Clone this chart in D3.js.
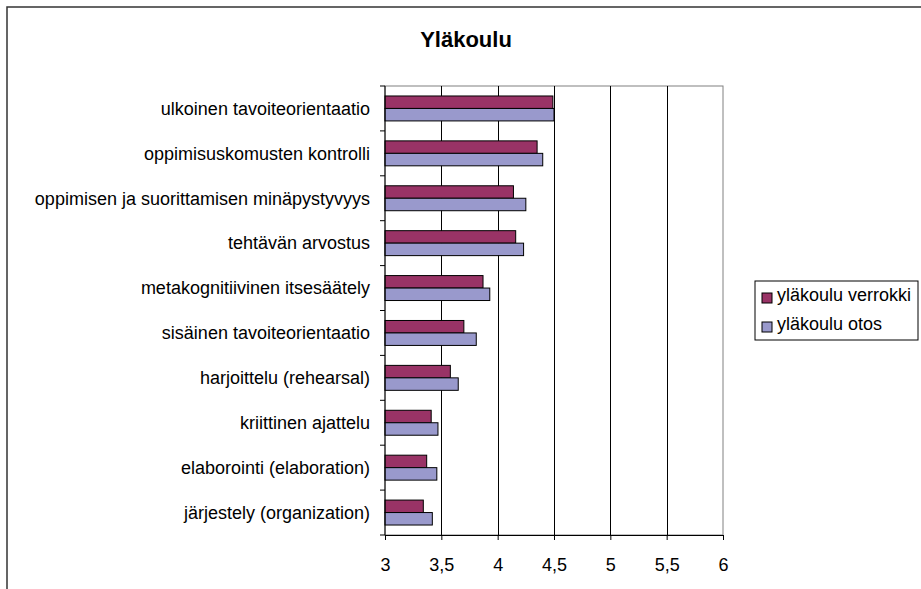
<!DOCTYPE html>
<html>
<head>
<meta charset="utf-8">
<script src="https://cdn.jsdelivr.net/npm/d3@7"></script>
<style>
  body { margin: 0; background: #fff; }
  text { font-family: Arial, "Liberation Sans", sans-serif; fill: #000; }
</style>
</head>
<body>
<svg id="chart" width="921" height="589"></svg>
<script>
// -------------------- DATA -------------------- //
const categories = [
    "ulkoinen tavoiteorientaatio",
    "oppimisuskomusten kontrolli",
    "oppimisen ja suorittamisen minäpystyvyys",
    "tehtävän arvostus",
    "metakognitiivinen itsesäätely",
    "sisäinen tavoiteorientaatio",
    "harjoittelu (rehearsal)",
    "kriittinen ajattelu",
    "elaborointi (elaboration)",
    "järjestely (organization)"
];
const verrokki = [4.49, 4.35, 4.14, 4.16, 3.87, 3.70, 3.58, 3.41, 3.37, 3.34];
const otos     = [4.50, 4.40, 4.25, 4.23, 3.93, 3.81, 3.65, 3.47, 3.46, 3.42];
const seriesNames = ["yläkoulu verrokki", "yläkoulu otos"];
const xTicks = [3, 3.5, 4, 4.5, 5, 5.5, 6];

// -------------------- LAYOUT -------------------- //
const svg = d3.select("#chart");
const colors = ["#993366", "#9999CC"];
const plotLeft = 385, plotRight = 723, plotTop = 86, plotBottom = 535;
const FONT = 18;

// outer chart border
svg.append("rect")
    .attr("x", 7).attr("y", 7)
    .attr("width", 930).attr("height", 600)
    .attr("fill", "none").attr("stroke", "#333").attr("stroke-width", 1.5);

svg.append("text")
    .attr("x", 466).attr("y", 47)
    .attr("text-anchor", "middle")
    .attr("font-size", 22).attr("font-weight", "bold")
    .text("Yläkoulu");

let x = d3.scaleLinear().domain([3, 6]).range([plotLeft, plotRight]);
let y = d3.scaleBand().domain(categories).range([plotTop, plotBottom]);
let ySub = d3.scaleBand().domain([0, 1]).range([0, y.bandwidth()]).paddingOuter(0.8).paddingInner(0);

// plot area border (gray)
svg.append("rect")
    .attr("x", plotLeft).attr("y", plotTop)
    .attr("width", plotRight - plotLeft).attr("height", plotBottom - plotTop)
    .attr("fill", "none").attr("stroke", "#808080").attr("stroke-width", 1);

// gridlines
svg.append("g").selectAll("line")
    .data(xTicks.filter(d => d > 3 && d < 6))
    .join("line")
    .attr("x1", d => Math.round(x(d)) + 0.5).attr("x2", d => Math.round(x(d)) + 0.5)
    .attr("y1", plotTop).attr("y2", plotBottom)
    .attr("stroke", "#000").attr("stroke-width", 1);

// bars
const rows = categories.map((c, i) => ({c: c, vals: [verrokki[i], otos[i]]}));
const g = svg.append("g");
rows.forEach(r => {
    r.vals.forEach((v, k) => {
        g.append("rect")
            .attr("x", x(3))
            .attr("y", y(r.c) + ySub(k))
            .attr("width", x(v) - x(3))
            .attr("height", ySub.bandwidth())
            .attr("fill", colors[k])
            .attr("stroke", "#000").attr("stroke-width", 1);
    });
});

// x axis
const xAxis = d3.axisBottom(x).tickValues(xTicks).tickSize(5)
    .tickFormat(d => String(d).replace(".", ","));
const xg = svg.append("g").attr("transform", `translate(0,${plotBottom})`).call(xAxis);
xg.select(".domain").attr("stroke", "#000");
xg.selectAll("text")
    .attr("font-size", FONT)
    .attr("y", 36).attr("dy", null)
    .attr("font-family", "Arial, 'Liberation Sans', sans-serif");

// y axis: line and ticks at category boundaries
svg.append("line")
    .attr("x1", plotLeft).attr("x2", plotLeft).attr("y1", plotTop).attr("y2", plotBottom)
    .attr("stroke", "#000");
svg.append("g").selectAll("line")
    .data(d3.range(categories.length + 1))
    .join("line")
    .attr("x1", plotLeft - 5).attr("x2", plotLeft)
    .attr("y1", d => plotTop + d * y.step()).attr("y2", d => plotTop + d * y.step())
    .attr("stroke", "#000");
svg.append("g").selectAll("text")
    .data(categories)
    .join("text")
    .attr("x", plotLeft - 15)
    .attr("y", d => y(d) + y.bandwidth() / 2)
    .attr("dy", "0.35em")
    .attr("text-anchor", "end")
    .attr("font-size", FONT)
    .text(d => d);

// legend
const lg = svg.append("g");
lg.append("rect")
    .attr("x", 755).attr("y", 281).attr("width", 163).attr("height", 59)
    .attr("fill", "#fff").attr("stroke", "#000");
seriesNames.forEach((s, i) => {
    lg.append("rect")
        .attr("x", 762).attr("y", 293 + i * 29)
        .attr("width", 10).attr("height", 10)
        .attr("fill", colors[i]).attr("stroke", "#000");
    lg.append("text")
        .attr("x", 777).attr("y", 301 + i * 29)
        .attr("font-size", FONT)
        .text(s);
});
</script>
</body>
</html>
